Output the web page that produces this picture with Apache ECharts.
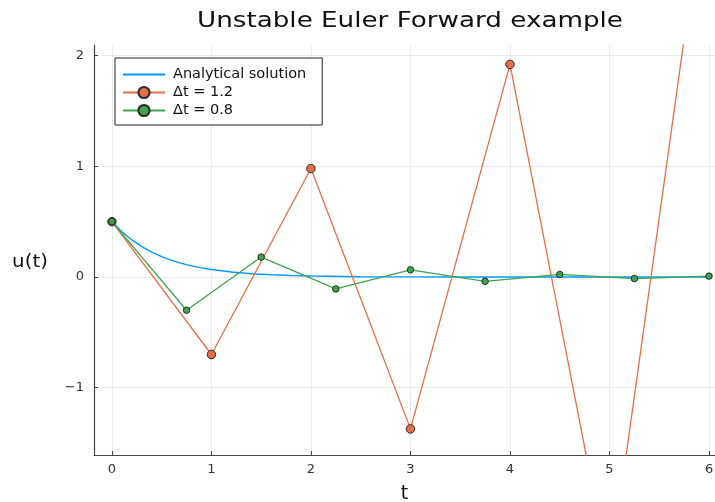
<!DOCTYPE html>
<html>
<head>
<meta charset="utf-8">
<script src="https://cdn.jsdelivr.net/npm/echarts@6/dist/echarts.min.js"></script>
<style>html,body{margin:0;padding:0;background:#fff;overflow:hidden}#c{width:715px;height:502px}</style>
</head>
<body>
<div id="c"></div>
<script>
// Analytical solution
const analyticT = [0, 0.1, 0.2, 0.3, 0.4, 0.5, 0.6, 0.7, 0.8, 0.9, 1.0, 1.2, 1.4, 1.6, 1.8, 2.0, 2.5, 3.0, 3.5, 4.0, 5.0, 6.0];
const analyticU = [0.5, 0.409, 0.335, 0.274, 0.225, 0.184, 0.151, 0.123, 0.101, 0.083, 0.068, 0.045, 0.030, 0.020, 0.014, 0.009, 0.003, 0.001, 0.0005, 0.0002, 0.0, 0.0];
// Δt = 1.2 (red)
const redT = [0, 1, 2, 3, 4, 5, 6];
const redU = [0.5, -0.7, 0.98, -1.372, 1.921, -2.689, 3.765];
// Δt = 0.8 (green)
const greenT = [0, 0.75, 1.5, 2.25, 3.0, 3.75, 4.5, 5.25, 6.0];
const greenU = [0.5, -0.3, 0.18, -0.108, 0.065, -0.039, 0.023, -0.014, 0.008];
const xTicks = [0, 1, 2, 3, 4, 5, 6];
const yTicks = [-1, 0, 1, 2];
const seriesNames = ['Analytical solution', 'Δt = 1.2', 'Δt = 0.8'];
const titleText = 'Unstable Euler Forward example';
const yLabel = 'u(t)';
const xLabel = 't';

const zip = (a, b) => a.map((v, i) => [v, b[i]]);
const font = 'DejaVu Sans';
const chart = echarts.init(document.getElementById('c'), null, {renderer: 'canvas', width: 715, height: 502});
chart.setOption({
  animation: false,
  backgroundColor: '#fff',
  textStyle: {fontFamily: font},
  graphic: [
    {type: 'text', x: 410, y: 21, scaleX: 1.19, scaleY: 1,
     style: {text: titleText, fontFamily: font, fontSize: 22, fill: '#111', align: 'center', verticalAlign: 'middle'}},
    {type: 'text', x: 30, y: 262, scaleX: 1.1,
     style: {text: yLabel, fontFamily: font, fontSize: 18, fill: '#111', align: 'center', verticalAlign: 'middle'}}
  ],
  legend: {
    orient: 'vertical', left: 115, top: 58,
    backgroundColor: '#fff', borderColor: '#222', borderWidth: 1,
    padding: [9, 16, 7, 7], itemGap: 3, itemWidth: 42, itemHeight: 14,
    textStyle: {fontFamily: font, fontSize: 14.5, color: '#111', padding: [0, 0, 0, 3]},
    data: [{name: seriesNames[0], itemStyle: {opacity: 0}}, seriesNames[1], seriesNames[2]]
  },
  grid: {left: 94, right: 0, top: 45, bottom: 47, containLabel: false, outerBoundsMode: 'none'},
  xAxis: {
    type: 'value', min: -0.18, max: 6.06,
    name: xLabel, nameLocation: 'middle', nameGap: 30,
    nameTextStyle: {fontFamily: font, fontSize: 19, color: '#111'},
    axisLine: {show: true, onZero: false, lineStyle: {color: '#444', width: 1.2}},
    axisTick: {show: true, inside: true, length: 4, customValues: xTicks, lineStyle: {color: '#444'}},
    axisLabel: {customValues: xTicks, margin: 8, fontFamily: font, fontSize: 13, color: '#333'},
    splitLine: {show: true, lineStyle: {color: '#ebebeb', width: 1}}
  },
  yAxis: {
    type: 'value', min: -1.608, max: 2.096,
    axisLine: {show: true, onZero: false, lineStyle: {color: '#444', width: 1.2}},
    axisTick: {show: true, inside: true, length: 4, customValues: yTicks, lineStyle: {color: '#444'}},
    axisLabel: {customValues: yTicks, margin: 10, fontFamily: font, fontSize: 13, color: '#333',
      formatter: v => String(v).replace('-', '\u2212')},
    splitLine: {show: true, lineStyle: {color: '#ebebeb', width: 1}}
  },
  series: [
    {
      name: seriesNames[0], type: 'line', data: zip(analyticT, analyticU),
      smooth: false, showSymbol: false, symbol: 'none',
      lineStyle: {color: '#009AFA', width: 1.4}, itemStyle: {color: '#009AFA'}, clip: true
    },
    {
      name: seriesNames[1], type: 'line', data: zip(redT, redU),
      symbol: 'circle', symbolSize: 8.5, clip: true,
      lineStyle: {color: '#E26F46', width: 1.3},
      itemStyle: {color: '#E26F46', borderColor: '#2a2a2a', borderWidth: 1}
    },
    {
      name: seriesNames[2], type: 'line', data: zip(greenT, greenU),
      symbol: 'circle', symbolSize: 6.5, clip: true,
      lineStyle: {color: '#3EA44E', width: 1.3},
      itemStyle: {color: '#3EA44E', borderColor: '#2a2a2a', borderWidth: 1}
    }
  ]
});
</script>
</body>
</html>
